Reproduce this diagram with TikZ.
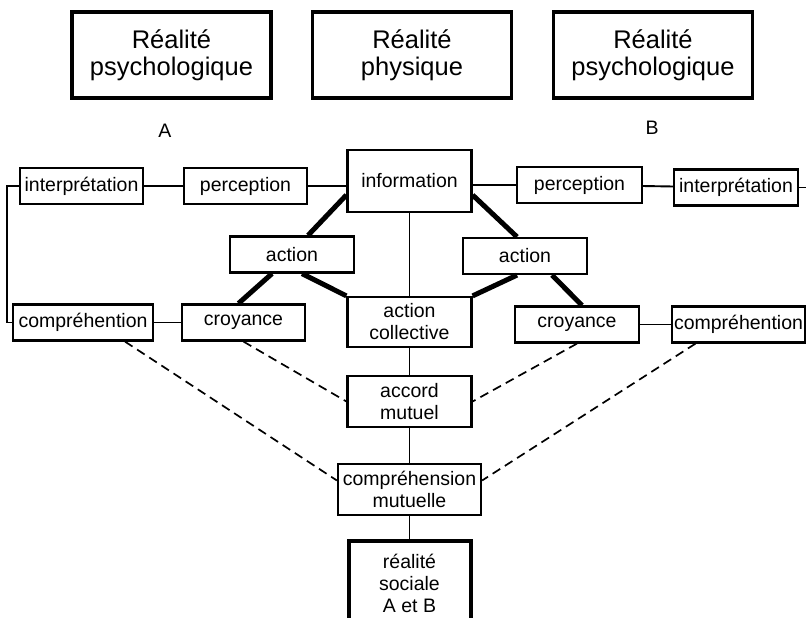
\documentclass[tikz,border=0pt]{standalone}
\usepackage{fontspec}
\setmainfont{Liberation Sans}
\begin{document}
\begin{tikzpicture}[x=1pt,y=-1pt,
  box/.style={draw,line width=2.2pt,inner sep=1pt,minimum height=36pt,align=center,font=\fontsize{19.5}{22}\selectfont},
  topbox/.style={draw,line width=3.4pt,minimum width=199pt,minimum height=86pt,align=center,font=\fontsize{25.5}{27}\selectfont},
  link/.style={line width=1.9pt},
  thickline/.style={line width=5pt},
  dashline/.style={line width=1.7pt,dash pattern=on 9pt off 5.5pt}]
\useasboundingbox (0,0) rectangle (806,618);
% the three realities
\node[topbox] (topL) at (171.5,55) {Réalité\\psychologique};
\node[topbox] (topM) at (412,55) {Réalité\\physique};
\node[topbox] (topR) at (653,55) {Réalité\\psychologique};
\node[font=\fontsize{19.5}{22}\selectfont] (labA) at (165,131) {A};
\node[font=\fontsize{19.5}{22}\selectfont] (labB) at (652,128) {B};
% upper row
\node[box,minimum width=123pt] (interL) at (81.5,186) {interprétation};
\node[box,minimum width=123pt] (percL) at (245.5,186) {perception};
\node[box,minimum width=124pt,minimum height=62pt] (info) at (409.5,181) {information};
\node[box,minimum width=125pt] (percR) at (579.5,185) {perception};
\node[box,minimum width=124pt] (interR) at (736,187.5) {interprétation};
\coordinate (edgeR) at (806,187.5);
% actions
\node[box,minimum width=124pt] (actionL) at (292,254.5) {action};
\node[box,minimum width=124pt] (actionR) at (525,256) {action};
% lower row
\node[box,minimum width=140pt] (compL) at (83,322.5) {compréhention};
\node[box,minimum width=123pt] (croyL) at (243.5,322.5) {croyance};
\node[box,minimum width=124pt,minimum height=50pt] (actcoll) at (409.5,322) {action\\collective};
\node[box,minimum width=124pt] (croyR) at (577,324.5) {croyance};
\node[box,minimum width=133pt] (compR) at (738.5,324.5) {compréhention};
% central column
\node[box,minimum width=124pt,minimum height=51pt] (accord) at (409.5,401.5) {accord\\mutuel};
\node[box,minimum width=143pt,minimum height=51pt] (compMut) at (409.5,489.5) {compréhension\\mutuelle};
\node[box,line width=4pt,minimum width=122pt,minimum height=84pt] (realite) at (409.5,583) {réalité\\sociale\\A et B};
% thin links
\draw[link] (interL) -- (percL);
\draw[link] (percL.east) -- (percL.east -| info.west);
\draw[link] (percR.west -| info.east) -- (percR.west);
\draw[link] (percR) -- (interR);
\draw[link] (interR.east) -- (edgeR);
\draw[link] (interL.west) -- ++(-12,0) |- (compL.west);
\draw[link] (compL) -- (croyL);
\draw[link] (croyR) -- (compR);
\draw[link] (info) -- (actcoll);
\draw[link] (actcoll) -- (accord);
\draw[link] (accord) -- (compMut);
\draw[link] (compMut) -- (realite);
% thick links
\draw[thickline] ([yshift=-14pt]info.west) -- ([xshift=16pt]actionL.north);
\draw[thickline] ([xshift=-20pt]actionL.south) -- ([xshift=-5pt]croyL.north);
\draw[thickline] ([xshift=10pt]actionL.south) -- (actcoll.north west);
\draw[thickline] ([yshift=-14pt]info.east) -- ([xshift=-8pt]actionR.north);
\draw[thickline] ([xshift=-8pt]actionR.south) -- (actcoll.north east);
\draw[thickline] ([xshift=27pt]actionR.south) -- ([xshift=5pt]croyR.north);
% dashed links
\draw[dashline] ([xshift=42pt]compL.south) -- ([yshift=9pt]compMut.west);
\draw[dashline] (croyL.south) -- (accord.west);
\draw[dashline] (croyR.south) -- (accord.east);
\draw[dashline] ([xshift=-43pt]compR.south) -- ([yshift=9pt]compMut.east);
\end{tikzpicture}
\end{document}
